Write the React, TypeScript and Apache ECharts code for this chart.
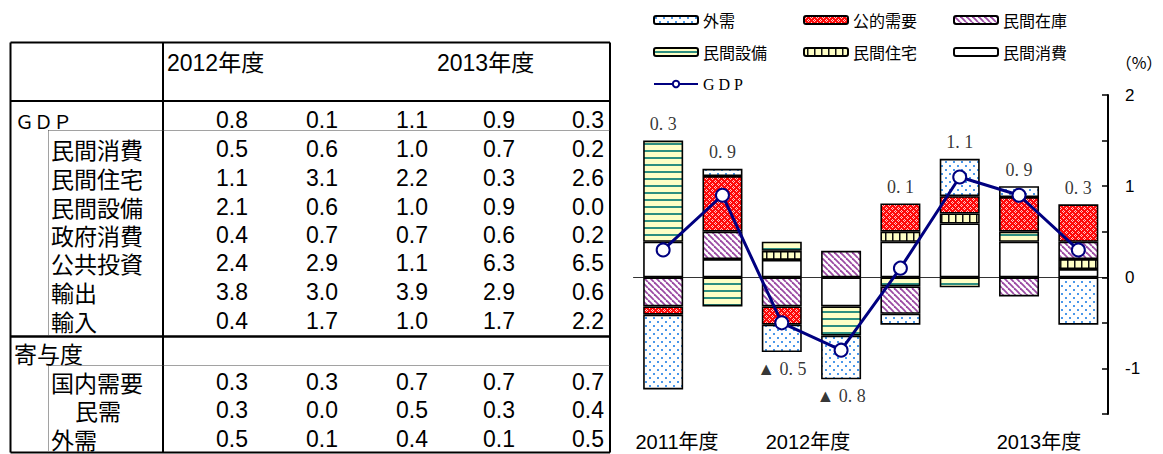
import React, { useEffect, useRef } from 'react';
import * as echarts from 'echarts';

// ---------- chart data (contribution to GDP growth, %) ----------
const categories = ['2011年度Ⅲ', '2011年度Ⅳ', '2012年度Ⅰ', '2012年度Ⅱ', '2012年度Ⅲ', '2012年度Ⅳ', '2013年度Ⅰ', '2013年度Ⅱ'];
const yearLabels = ['2011年度', '2012年度', '2013年度'];
const shohi = [0.39, 0.2, 0.19, -0.32, 0.39, 0.59, 0.39, 0.09];      // 民間消費
const jutaku = [null, null, 0.1, null, 0.11, 0.11, null, 0.11];      // 民間住宅
const setsubi = [1.11, -0.32, 0.1, -0.32, -0.1, -0.11, 0.11, null];  // 民間設備
const zaiko = [-0.32, 0.3, -0.32, 0.29, -0.3, null, -0.21, 0.19];    // 民間在庫
const kouteki = [-0.09, 0.61, -0.2, null, 0.31, 0.19, 0.38, 0.41];   // 公的需要
const gaiju = [-0.82, 0.08, -0.3, -0.48, -0.12, 0.41, 0.12, -0.52];  // 外需
const gdp = [0.3, 0.9, -0.5, -0.8, 0.1, 1.1, 0.9, 0.3];              // GDP

// ---------- table data ----------
const tableYears = ['2012年度', '2013年度'];
const tableRowNames = ['ＧＤＰ', '民間消費', '民間住宅', '民間設備', '政府消費', '公共投資', '輸出', '輸入'];
const tblGDP = [0.8, 0.1, 1.1, 0.9, 0.3];
const tblShohi = [0.5, 0.6, 1.0, 0.7, 0.2];
const tblJutaku = [1.1, 3.1, 2.2, 0.3, 2.6];
const tblSetsubi = [2.1, 0.6, 1.0, 0.9, 0.0];
const tblSeifu = [0.4, 0.7, 0.7, 0.6, 0.2];
const tblKoukyo = [2.4, 2.9, 1.1, 6.3, 6.5];
const tblYushutsu = [3.8, 3.0, 3.9, 2.9, 0.6];
const tblYunyu = [0.4, 1.7, 1.0, 1.7, 2.2];
const contribTitle = '寄与度';
const contribRowNames = ['国内需要', '民需', '外需'];
const tblNaiju = [0.3, 0.3, 0.7, 0.7, 0.7];
const tblMinju = [0.3, 0.0, 0.5, 0.3, 0.4];
const tblGaiju = [0.5, 0.1, 0.4, 0.1, 0.5];

function makeTile(kind: string): HTMLCanvasElement {
  const c = document.createElement('canvas');
  const ctx = c.getContext('2d') as CanvasRenderingContext2D;
  if (kind === 'dots') {
    c.width = 8; c.height = 8;
    ctx.fillStyle = '#ffffff'; ctx.fillRect(0, 0, 8, 8);
    ctx.fillStyle = '#4a98ea';
    ctx.fillRect(1, 1, 2, 2);
    ctx.fillRect(5, 5, 2, 2);
  } else if (kind === 'red') {
    c.width = 6; c.height = 6;
    ctx.fillStyle = '#ff0a0a'; ctx.fillRect(0, 0, 6, 6);
    ctx.fillStyle = '#ffc8c8';
    [[1, 0], [0, 1], [2, 1], [1, 2], [4, 3], [3, 4], [5, 4], [4, 5]].forEach(([x, y]) => ctx.fillRect(x, y, 1, 1));
  } else if (kind === 'diag') {
    c.width = 6; c.height = 6;
    ctx.fillStyle = '#ffffff'; ctx.fillRect(0, 0, 6, 6);
    ctx.strokeStyle = '#9b4aa3'; ctx.lineWidth = 1.8;
    for (const x0 of [-6, 0, 6]) {
      ctx.beginPath(); ctx.moveTo(x0, 0); ctx.lineTo(x0 + 6, 6); ctx.stroke();
    }
  } else if (kind === 'hlines') {
    c.width = 8; c.height = 7;
    ctx.fillStyle = '#ffffc6'; ctx.fillRect(0, 0, 8, 7);
    ctx.fillStyle = '#2e8f80'; ctx.fillRect(0, 3, 8, 2);
  } else if (kind === 'vlines') {
    c.width = 7; c.height = 8;
    ctx.fillStyle = '#ffffc6'; ctx.fillRect(0, 0, 7, 8);
    ctx.fillStyle = '#111111'; ctx.fillRect(3, 0, 1.5, 8);
  } else {
    c.width = 4; c.height = 4;
    ctx.fillStyle = '#ffffff'; ctx.fillRect(0, 0, 4, 4);
  }
  return c;
}

const fmtGdp = (v: number) => {
  const s = Math.abs(v).toFixed(1).replace('.', '. ');
  return v < 0 ? '▲ ' + s : s;
};

export default function App() {
  const ref = useRef<HTMLDivElement>(null);
  useEffect(() => {
    if (!ref.current) return;
    const chart = echarts.init(ref.current, null, { renderer: 'svg' });

    const pat = (k: string) => ({ image: makeTile(k), repeat: 'repeat' });
    const border = { borderColor: '#000', borderWidth: 1.6 };
    const barSeries = [
      { name: '民間消費', data: shohi, color: '#ffffff' },
      { name: '民間住宅', data: jutaku, color: pat('vlines') },
      { name: '民間設備', data: setsubi, color: pat('hlines') },
      { name: '民間在庫', data: zaiko, color: pat('diag') },
      { name: '公的需要', data: kouteki, color: pat('red') },
      { name: '外需', data: gaiju, color: pat('dots') },
    ].map((s) => ({
      name: s.name,
      type: 'bar',
      stack: 'total',
      barWidth: 40,
      data: s.data.map((v) => (v === null ? '-' : v)),
      itemStyle: { color: s.color, ...border },
    }));

    const allStacks = [shohi, jutaku, setsubi, zaiko, kouteki, gaiju];
    const labelData = categories.map((_, i) => {
      let pos = 0, neg = 0;
      allStacks.forEach((arr) => {
        const v = arr[i];
        if (v === null || v === undefined) return;
        if (v >= 0) pos += v; else neg += v;
      });
      const up = gdp[i] >= 0;
      return {
        value: [i, up ? pos : neg],
        gdp: gdp[i],
        label: { position: up ? 'top' : 'bottom' },
      };
    });

    const tfont = (size: number, fam: string) => `${size}px ${fam}`;
    const SANS = '"Liberation Sans", Arial, sans-serif';
    const CJK = '"Noto Sans CJK JP", sans-serif';
    const MIX = '"Liberation Sans", "Noto Sans CJK JP", sans-serif';
    const graphic: any[] = [];
    const txt = (text: string, x: number, y: number, font: string, align = 'left') => {
      graphic.push({
        type: 'text', x, y, silent: true,
        style: { text, font, fill: '#000', textAlign: align, textVerticalAlign: 'middle', align, verticalAlign: 'middle' },
      });
    };
    const line = (x1: number, y1: number, x2: number, y2: number, w: number, dash?: number[]) => {
      graphic.push({
        type: 'line', silent: true,
        shape: { x1, y1, x2, y2 },
        style: { stroke: dash ? '#444' : '#000', lineWidth: w, lineDash: dash || null },
      });
    };

    // table frame
    const L = 10.5, R = 610, T = 42.5, B = 452.5, VX = 163, DX = 48.5;
    line(L, T, R, T, 2);
    line(L, B, R, B, 2);
    line(L, T, L, B, 2);
    line(R, T, R, B, 2);
    line(VX, T, VX, B, 2);
    line(L, 101, R, 101, 2);
    line(L, 336.5, R, 336.5, 2.5);
    line(DX, 130.5, R, 130.5, 1, [1, 1]);
    line(DX, 130.5, DX, 335, 1, [1, 1]);
    line(DX, 365.5, R, 365.5, 1, [1, 1]);
    line(DX, 365.5, DX, 451, 1, [1, 1]);

    // header
    txt(tableYears[0], 167, 63, tfont(23, MIX));
    txt(tableYears[1], 437, 63, tfont(23, MIX));

    const colRight = [248, 338, 428, 515, 604];
    const rowY = [120, 149, 178, 207, 234.5, 263, 291.5, 320.5];
    const rowData = [tblGDP, tblShohi, tblJutaku, tblSetsubi, tblSeifu, tblKoukyo, tblYushutsu, tblYunyu];
    tableRowNames.forEach((n, r) => {
      if (r === 0) txt(n, 15, rowY[r], tfont(19, CJK));
      else txt(n, 51, rowY[r], tfont(23, CJK));
      rowData[r].forEach((v, c) => txt(v.toFixed(1), colRight[c], rowY[r], tfont(23, SANS), 'right'));
    });
    txt(contribTitle, 14, 353, tfont(23, CJK));
    const cY = [381.5, 410, 438.5];
    const cData = [tblNaiju, tblMinju, tblGaiju];
    contribRowNames.forEach((n, r) => {
      txt(n, r === 1 ? 75 : 51, cY[r], tfont(23, CJK));
      cData[r].forEach((v, c) => txt(v.toFixed(1), colRight[c], cY[r], tfont(23, SANS), 'right'));
    });

    // chart annotations
    txt('（%）', 1139, 62, tfont(16, CJK), 'center');
    const yearX = [677, 808, 1039];
    yearLabels.forEach((t, i) => txt(t, yearX[i], 442, tfont(20, MIX), 'center'));

    const legendText = { fontSize: 16, color: '#000', fontFamily: CJK, lineHeight: 18 };
    const legendBase = {
      orient: 'vertical', top: 11, itemWidth: 44, itemHeight: 8, itemGap: 14,
      textStyle: legendText, selectedMode: false, padding: 0,
    };

    const option: any = {
      animation: false,
      textStyle: { fontFamily: CJK },
      grid: { left: 633.5, right: 55, top: 95, bottom: 40 },
      xAxis: {
        type: 'category', data: categories,
        axisLine: { onZero: true, lineStyle: { color: '#333', width: 1 } },
        axisTick: { show: false }, axisLabel: { show: false }, splitLine: { show: false },
      },
      yAxis: {
        type: 'value', position: 'right', min: -1.5, max: 2, interval: 0.5,
        axisLine: { show: true, lineStyle: { color: '#000', width: 2 } },
        axisTick: { show: true, inside: true, length: 6, lineStyle: { color: '#000', width: 1.5 } },
        axisLabel: {
          margin: 17, color: '#000', fontSize: 17, fontFamily: SANS,
          formatter: (v: number) => (Number.isInteger(v) ? String(v) : ''),
        },
        splitLine: { show: false },
      },
      legend: [
        { ...legendBase, left: 653, data: ['外需', '民間設備', { name: 'G D P', textStyle: { fontFamily: '"Liberation Serif", serif', fontSize: 16 } }] },
        { ...legendBase, left: 803, data: ['公的需要', '民間住宅'] },
        { ...legendBase, left: 953, data: ['民間在庫', '民間消費'] },
      ],
      series: [
        ...barSeries,
        {
          name: 'G D P', type: 'line', data: gdp, z: 10,
          symbol: 'circle', symbolSize: 13,
          itemStyle: { color: '#ffffff', borderColor: '#000080', borderWidth: 2 },
          lineStyle: { color: '#000080', width: 3 },
        },
        {
          name: 'GDP値', type: 'scatter', data: labelData, symbolSize: 1, z: 11,
          itemStyle: { color: 'rgba(0,0,0,0)' },
          label: {
            show: true, distance: 7, color: '#000', fontSize: 18,
            fontFamily: '"Liberation Serif", "DejaVu Serif", serif',
            formatter: (p: any) => fmtGdp(p.data.gdp),
          },
        },
      ],
      graphic,
    };
    chart.setOption(option);
    return () => chart.dispose();
  }, []);
  return <div ref={ref} style={{ position: 'absolute', left: 0, top: 0, width: 1163, height: 454, background: '#fff' }} />;
}
